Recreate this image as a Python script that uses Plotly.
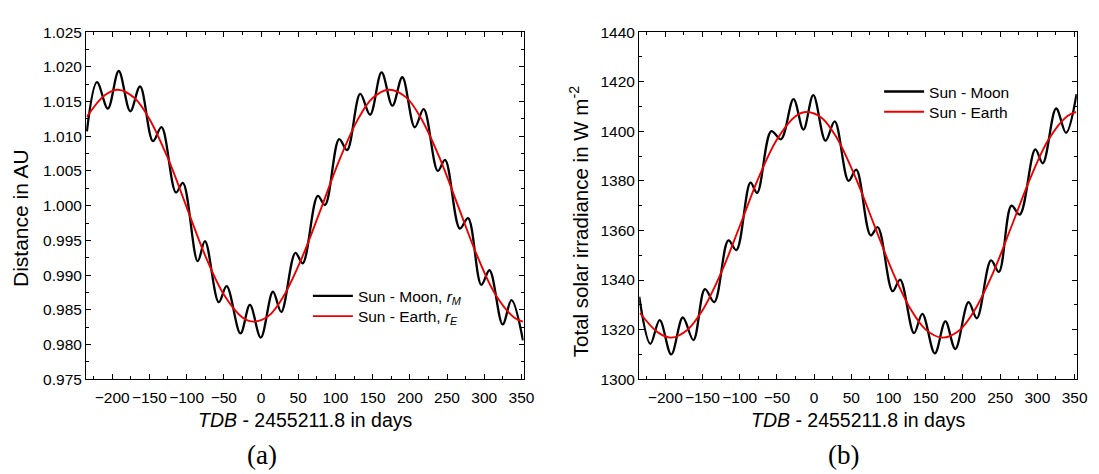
import plotly.graph_objects as go

# ---------------- data ----------------
# Panel (a): Sun-Moon distance (black), local extrema of the curve
days_moon_a = [-234, -220.4, -205.8, -191.2, -175.7, -162.5, -145.2, -133.7, -114.3, -105,
               -85.1, -75.3, -56.8, -46.2, -27.6, -14.9, -0.3, 16, 27.2, 46.2,
               56, 76.3, 86, 105, 115.6, 133.3, 146.6, 162, 176.6, 189.9,
               206.6, 218.6, 237.6, 247.3, 267.2, 278.2, 296, 307, 324.7, 336.6, 352]
dist_moon = [1.0107, 1.0178, 1.0140, 1.0194, 1.0136, 1.0172, 1.0093, 1.0113, 1.0019, 1.0033,
             0.9920, 0.9949, 0.9861, 0.9884, 0.9816, 0.9857, 0.9810, 0.9876, 0.9847, 0.9932,
             0.9917, 1.0014, 1.0001, 1.0096, 1.0080, 1.0161, 1.0131, 1.0192, 1.0144, 1.0185,
             1.0113, 1.0139, 1.0050, 1.0066, 0.9967, 0.9982, 0.9886, 0.9907, 0.9829, 0.9864, 0.9806]

# Sun-Earth curves (red), sampled along the line
days_earth = [-234, -210, -192, -170, -150, -125, -100, -75, -50, -25, -10, 10, 30, 55,
              80, 105, 130, 150, 172, 195, 215, 240, 265, 290, 315, 340, 352]
dist_earth = [1.0128, 1.0159, 1.0167, 1.0155, 1.0125, 1.0068, 0.9998, 0.9928, 0.9872, 0.9839,
              0.9833, 0.9841, 0.9869, 0.9925, 0.9994, 1.0065, 1.0124, 1.0155, 1.0167, 1.0156,
              1.0126, 1.0069, 0.9999, 0.9929, 0.9872, 0.9839, 0.9833]
tsi_earth = [1326.7, 1318.9, 1316.8, 1320.0, 1327.8, 1342.9, 1361.7, 1381.0, 1396.7, 1406.1,
             1407.8, 1405.5, 1397.6, 1381.8, 1362.8, 1343.7, 1328.1, 1320.0, 1316.8, 1319.7,
             1327.5, 1342.6, 1361.5, 1380.7, 1396.7, 1406.1, 1407.8]

# Panel (b): TSI at the Moon (black), local extrema of the curve
days_moon_b = [-235, -220, -207.5, -192, -176.4, -162.2, -146.7, -134.2, -115.2, -104.5,
               -85.5, -76.6, -57.5, -44.6, -27.7, -14.4, -1.1, 15.3, 27.7, 46.3,
               56.6, 76, 85.5, 105.5, 115.6, 134.2, 145.4, 162.2, 176.4, 189.7,
               207.5, 218.6, 237.7, 248.3, 265.2, 276.3, 297.2, 307.3, 325.2, 338.5, 352.6]
tsi_moon = [1333.3, 1314.3, 1323.8, 1310.0, 1324.9, 1315.8, 1336.3, 1331.1, 1356.0, 1352.1,
            1379.3, 1375.2, 1400.1, 1396.8, 1413.0, 1400.7, 1414.6, 1396.2, 1404.0, 1380.0,
            1384.5, 1358.0, 1361.3, 1335.5, 1340.2, 1318.6, 1326.4, 1310.4, 1323.3, 1312.2,
            1331.1, 1324.6, 1347.9, 1343.3, 1370.0, 1366.4, 1392.7, 1387.1, 1409.2, 1399.4, 1415.0]

x_ticks = [-200, -150, -100, -50, 0, 50, 100, 150, 200, 250, 300, 350]
names_a = ["Sun - Moon, <i>r</i><sub><i>M</i></sub>", "Sun - Earth, <i>r</i><sub><i>E</i></sub>"]
names_b = ["Sun - Moon", "Sun - Earth"]
panel_labels = ["(a)", "(b)"]

# ---------------- figure ----------------
W, H = 1099, 474
FONT = "Liberation Sans"
RED = "#ee0000"

def px_x(p):
    return p / W

def px_y(p):
    return 1 - p / H

fig = go.Figure()
fig.add_trace(go.Scatter(x=days_moon_a, y=dist_moon, mode="lines", name=names_a[0],
                         line=dict(color="black", width=2.3, shape="spline", smoothing=1),
                         xaxis="x", yaxis="y", legend="legend", showlegend=True))
fig.add_trace(go.Scatter(x=days_earth, y=dist_earth, mode="lines", name=names_a[1],
                         line=dict(color=RED, width=1.9, shape="spline", smoothing=1),
                         xaxis="x", yaxis="y", legend="legend2", showlegend=True))
fig.add_trace(go.Scatter(x=days_moon_b, y=tsi_moon, mode="lines", name=names_b[0],
                         line=dict(color="black", width=2.3, shape="spline", smoothing=1),
                         xaxis="x2", yaxis="y2", legend="legend3", showlegend=True))
fig.add_trace(go.Scatter(x=days_earth, y=tsi_earth, mode="lines", name=names_b[1],
                         line=dict(color=RED, width=1.9, shape="spline", smoothing=1),
                         xaxis="x2", yaxis="y2", legend="legend4", showlegend=True))

ax_common = dict(showline=True, linecolor="black", linewidth=1.3, mirror="allticks",
                 ticks="inside", ticklen=5, tickwidth=1.2, tickcolor="black",
                 showgrid=False, zeroline=False,
                 tickfont=dict(family=FONT, size=15.5, color="black"))

xdom_a = [px_x(87), px_x(529)]
xdom_b = [px_x(645.7), px_x(1087.7)]
ydom = [px_y(384), px_y(24)]

def leg(xp, yp):
    return dict(x=px_x(xp), y=px_y(yp), xanchor="left", yanchor="middle",
                bgcolor="rgba(0,0,0,0)", borderwidth=0, itemwidth=40, visible=True,
                font=dict(family=FONT, size=15.5, color="black"))

fig.update_layout(
    width=W, height=H,
    showlegend=True,
    margin=dict(l=0, r=0, t=0, b=0),
    paper_bgcolor="white", plot_bgcolor="white",
    font=dict(family=FONT, color="black"),
    xaxis=dict(domain=xdom_a, anchor="y", range=[-235, 353], tickvals=x_ticks, tickangle=0,
               ticklabelstandoff=4,
               minor=dict(dtick=25, tick0=0, ticks="inside", ticklen=3, tickcolor="black"),
               **ax_common),
    yaxis=dict(domain=ydom, anchor="x", range=[0.975, 1.025], dtick=0.005, tick0=0.975,
               tickformat=".3f",
               minor=dict(dtick=0.0025, tick0=0.975, ticks="inside", ticklen=3, tickcolor="black"),
               **ax_common),
    xaxis2=dict(domain=xdom_b, anchor="y2", range=[-235, 353], tickvals=x_ticks, tickangle=0,
                ticklabelstandoff=4,
                minor=dict(dtick=25, tick0=0, ticks="inside", ticklen=3, tickcolor="black"),
                **ax_common),
    yaxis2=dict(domain=ydom, anchor="x2", range=[1300, 1440], dtick=20, tick0=1300,
                minor=dict(dtick=10, tick0=1300, ticks="inside", ticklen=3, tickcolor="black"),
                **ax_common),
    legend=leg(311, 298),
    legend2=leg(311, 319),
    legend3=leg(888, 86),
    legend4=leg(888, 107),
)

ann = []
# y-axis titles
ann.append(dict(text="Distance in AU", x=px_x(20), y=px_y(217), xref="paper", yref="paper",
                textangle=-90, showarrow=False, xanchor="center", yanchor="middle",
                font=dict(family=FONT, size=21, color="black")))
ann.append(dict(text="Total solar irradiance in W m<sup>-2</sup>", x=px_x(585), y=px_y(221),
                xref="paper", yref="paper", textangle=-90, showarrow=False,
                xanchor="center", yanchor="middle",
                font=dict(family=FONT, size=20.5, color="black")))
# x-axis titles
for cx in [309, 866.7]:
    ann.append(dict(text="<i>TDB</i> - 2455211.8 in days", x=px_x(cx), y=px_y(426),
                    xref="paper", yref="paper", showarrow=False,
                    xanchor="center", yanchor="middle",
                    font=dict(family=FONT, size=19.5, color="black")))
# panel labels
for lab, cx in zip(panel_labels, [264.5, 852.5]):
    ann.append(dict(text=lab, x=px_x(cx), y=px_y(463), xref="paper", yref="paper",
                    showarrow=False, xanchor="center", yanchor="middle",
                    font=dict(family="Liberation Serif", size=27, color="black")))
fig.update_layout(annotations=ann)

fig.write_html("out.html")
